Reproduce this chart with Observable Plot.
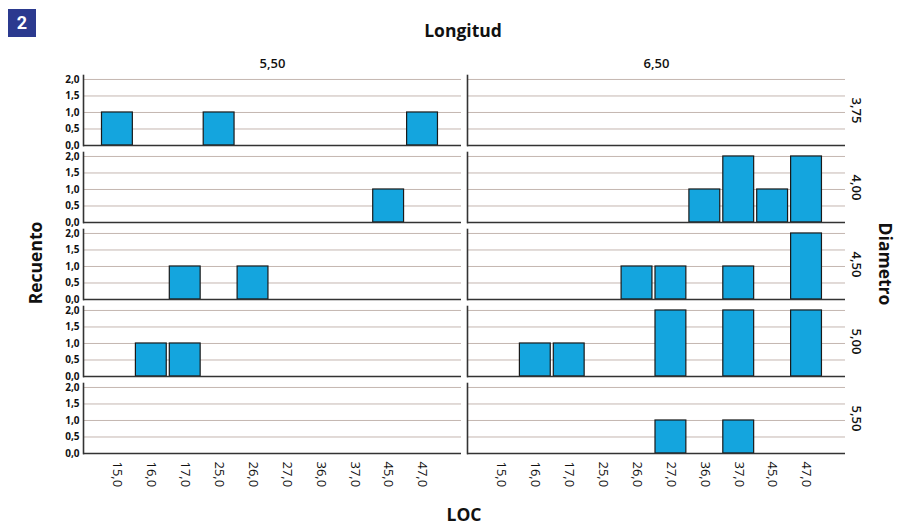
<!DOCTYPE html>
<html>
<head>
<meta charset="utf-8">
<script src="https://cdn.jsdelivr.net/npm/d3@7"></script>
<script src="https://cdn.jsdelivr.net/npm/@observablehq/plot@0.6"></script>
<style>
  body { margin: 0; background: #fff; }
  #wrap { position: relative; width: 902px; height: 527px; font-family: "Open Sans", sans-serif; color: #111; }
  .t { position: absolute; font-weight: bold; font-size: 17.5px; white-space: nowrap; line-height: 1; }
  #badge { position: absolute; left: 8px; top: 9px; width: 28px; height: 28px; background: #2b3a8f; color: #fff; font-weight: bold; font-size: 18px; text-align: center; line-height: 28px; font-family: "Roboto", sans-serif; }
</style>
</head>
<body>
<div id="wrap">
  <div id="badge">2</div>
  <div class="t" style="left:463px; top:31px; transform: translate(-50%,-50%);">Longitud</div>
  <div class="t" style="left:464px; top:515px; transform: translate(-50%,-50%);">LOC</div>
  <div class="t" style="left:36px; top:263px; transform: translate(-50%,-50%) rotate(-90deg);">Recuento</div>
  <div class="t" style="left:885px; top:264px; transform: translate(-50%,-50%) rotate(90deg);">Diametro</div>
</div>
<script>
const longitud = ["5,50", "6,50"];
const diametro = ["3,75", "4,00", "4,50", "5,00", "5,50"];
const loc = ["15,0", "16,0", "17,0", "25,0", "26,0", "27,0", "36,0", "37,0", "45,0", "47,0"];
const yTicks = [0, 0.5, 1, 1.5, 2];

// bar records
const barLongitud = ["5,50","5,50","5,50", "5,50", "6,50","6,50","6,50","6,50", "5,50","5,50", "6,50","6,50","6,50","6,50", "5,50","5,50", "6,50","6,50","6,50","6,50","6,50", "6,50","6,50"];
const barDiametro = ["3,75","3,75","3,75", "4,00", "4,00","4,00","4,00","4,00", "4,50","4,50", "4,50","4,50","4,50","4,50", "5,00","5,00", "5,00","5,00","5,00","5,00","5,00", "5,50","5,50"];
const barLoc      = ["15,0","25,0","47,0", "45,0", "36,0","37,0","45,0","47,0", "17,0","26,0", "26,0","27,0","37,0","47,0", "16,0","17,0", "16,0","17,0","27,0","37,0","47,0", "27,0","37,0"];
const barCount    = [1,1,1, 1, 1,2,1,2, 1,1, 1,1,1,2, 1,1, 1,1,2,2,2, 1,1];

const data = barCount.map((c, i) => ({longitud: barLongitud[i], diametro: barDiametro[i], loc: barLoc[i], count: c}));
// every facet cell, so that empty panels are drawn too
const cells = d3.cross(longitud, diametro).map(([l, d]) => ({longitud: l, diametro: d}));
const fmt = d => d.toFixed(1).replace(".", ",");

const chart = Plot.plot({
  width: 902,
  height: 527,
  marginTop: 75,
  marginBottom: 74,
  marginLeft: 83,
  marginRight: 57,
  style: {fontFamily: "'Open Sans', sans-serif", color: "#111", background: "transparent"},
  fx: {domain: longitud, paddingInner: 0.0156, paddingOuter: 0, round: false, label: null},
  fy: {domain: diametro, paddingInner: 0.091, paddingOuter: 0, round: false, label: null},
  x: {domain: loc, paddingInner: 0.09, paddingOuter: 0.62, align: 0.44, round: false, label: null},
  y: {domain: [0, 2.12], label: null},
  marks: [
    Plot.text(cells, {fx: "longitud", fy: "diametro", text: () => "", frameAnchor: "middle"}),
    Plot.gridY([0.5, 1, 1.5, 2], {stroke: "#c4b6b0", strokeOpacity: 1, strokeWidth: 1}),
    Plot.barY(data, {fx: "longitud", fy: "diametro", x: "loc", y: "count", fill: "#14a5de", stroke: "#1a1a1a", strokeWidth: 1.2}),
    Plot.frame({anchor: "left", stroke: "#333", strokeWidth: 1.6}),
    Plot.ruleY([0], {stroke: "#333", strokeWidth: 1.6}),
    Plot.axisY({ticks: yTicks, tickFormat: fmt, tickSize: 0, tickPadding: 4, fontSize: 10, fontWeight: "bold", label: null}),
    Plot.axisX({tickRotate: 90, tickSize: 0, tickPadding: 8, fontSize: 13, fontWeight: 500, label: null}),
    Plot.axisFx({anchor: "top", tickSize: 0, tickPadding: 8, fontSize: 13, fontWeight: 600, label: null}),
    Plot.axisFy({anchor: "right", tickRotate: 90, tickSize: 0, tickPadding: 16, fontSize: 13, fontWeight: 600, label: null})
  ]
});
chart.style.position = "absolute";
chart.style.left = "0px";
chart.style.top = "0px";
document.getElementById("wrap").prepend(chart);
</script>
</body>
</html>
